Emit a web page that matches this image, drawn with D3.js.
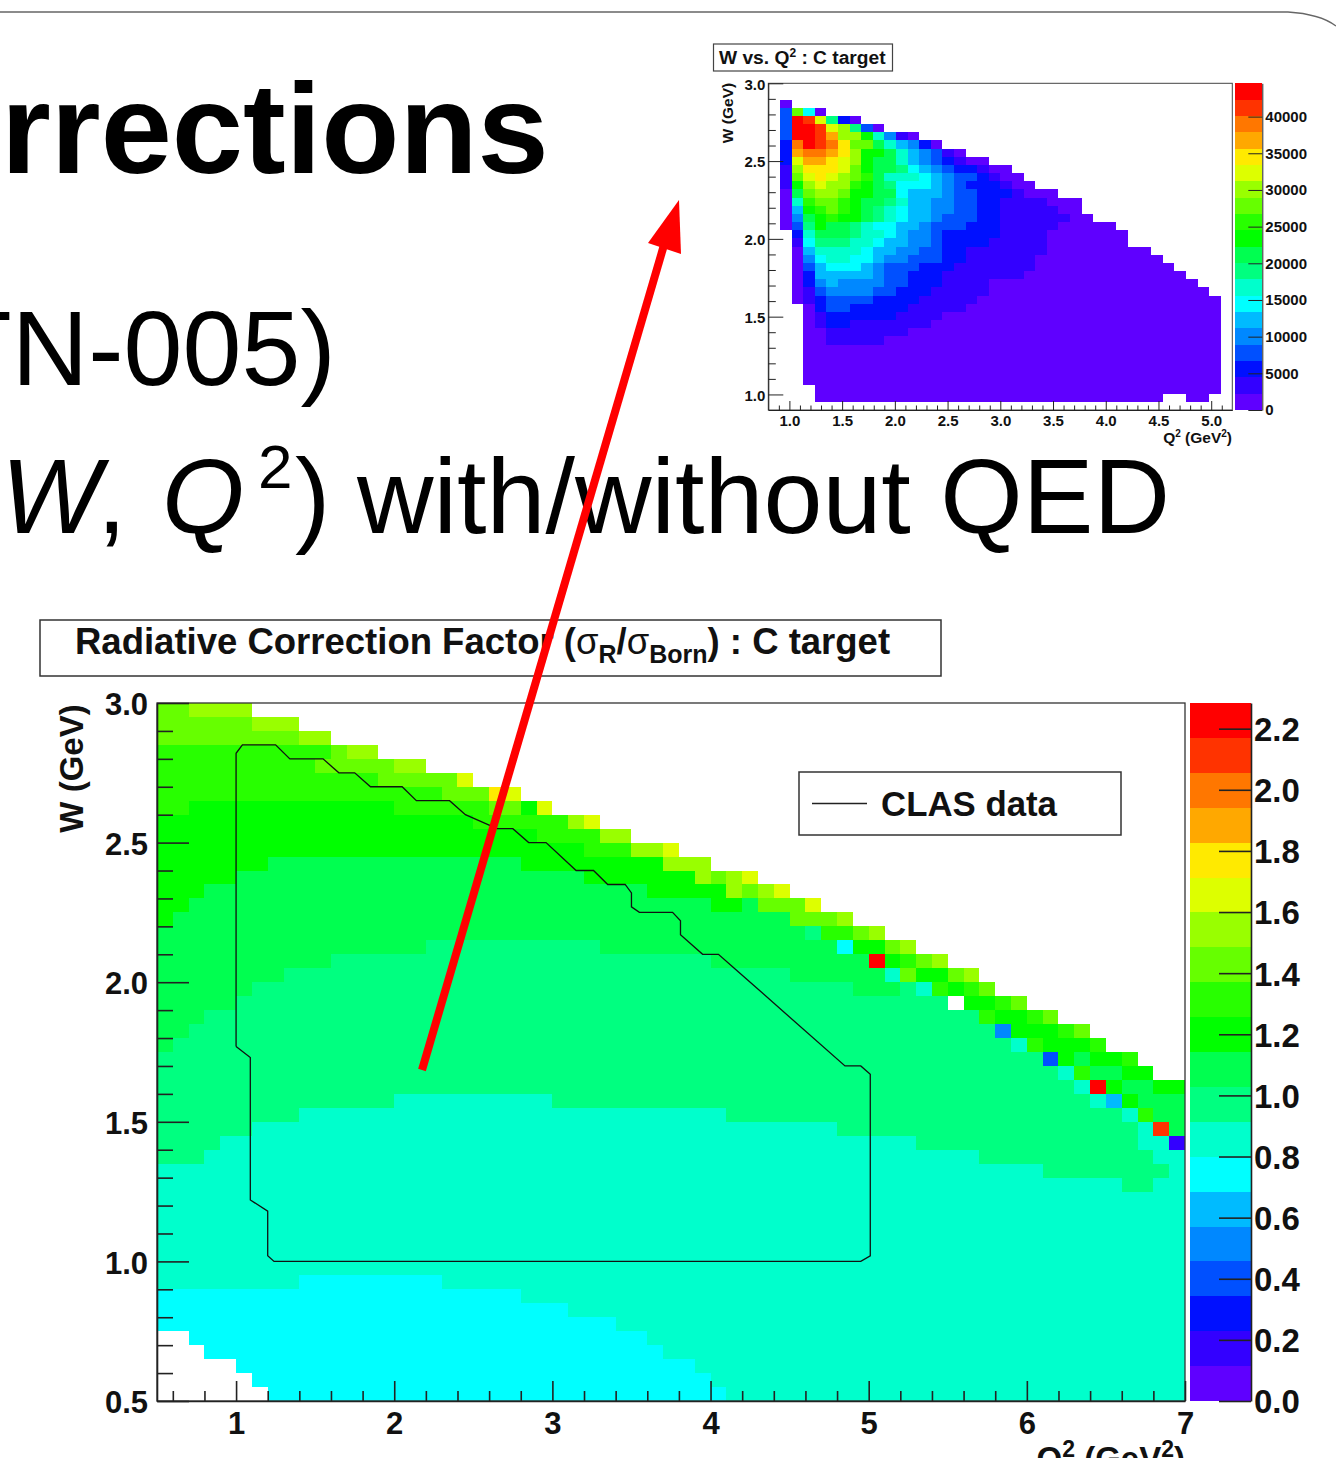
<!DOCTYPE html>
<html>
<head>
<meta charset="utf-8">
<script src="https://cdn.jsdelivr.net/npm/d3@7"></script>
<style>
	body { margin: 0; background: #ffffff; }
	svg { display: block; }
	text { font-family: "Liberation Sans", Arial, sans-serif; fill: #111111; }
	.cell { shape-rendering: crispEdges; }
</style>
</head>
<body>
<div id="chart"></div>
<script>
	// ROOT rainbow palette, 20 contour levels from the bottom of the colour bar
	var palette = ["#5f00ff", "#3300ff", "#0010ff", "#0050ff", "#0088ff", "#00bbff", "#00ffff", "#00ffcc", "#00ff80", "#00ff50",
		"#00ff00", "#28ff00", "#66ff00", "#99ff00", "#ddff00", "#ffea00", "#ffa800", "#ff7700", "#ff3300", "#ff0000"];

	// correction factor map, rows from W = 3.0 down in steps of 0.05
	// each row: Q2 where a run starts, colour level of the run ... -1 means empty
	var corrRows = [
		[0.5,12, 0.7,13, 1.1,-1],
		[0.5,12, 1.1,13, 1.4,-1],
		[0.5,12, 1.4,13, 1.6,-1],
		[0.5,11, 1.6,12, 1.7,13, 1.9,-1],
		[0.5,11, 1.5,12, 2.0,13, 2.2,-1],
		[0.5,11, 1.9,12, 2.4,14, 2.5,-1],
		[0.5,11, 2.3,12, 2.6,15, 2.7,14, 2.8,-1],
		[0.5,11, 0.7,10, 2.0,11, 2.6,12, 2.8,10, 2.9,14, 3.0,-1],
		[0.5,10, 2.5,11, 3.1,13, 3.2,14, 3.3,-1],
		[0.5,10, 2.9,11, 3.3,13, 3.5,-1],
		[0.5,10, 3.2,11, 3.5,13, 3.7,14, 3.8,-1],
		[0.5,10, 1.2,9, 2.8,10, 3.7,13, 4.0,-1],
		[0.5,10, 1.0,9, 3.2,10, 3.9,13, 4.0,12, 4.1,13, 4.2,14, 4.3,-1],
		[0.5,10, 0.8,9, 3.6,10, 4.1,13, 4.2,12, 4.3,13, 4.4,14, 4.5,-1],
		[0.5,10, 0.7,9, 4.0,10, 4.2,9, 4.3,12, 4.6,14, 4.7,-1],
		[0.5,10, 0.6,9, 4.5,12, 4.8,13, 4.9,-1],
		[0.5,9, 4.6,8, 4.7,11, 4.9,12, 5.0,13, 5.1,-1],
		[0.5,9, 2.2,8, 3.3,9, 4.8,6, 4.9,10, 5.1,12, 5.2,13, 5.3,-1],
		[0.5,9, 1.6,8, 4.0,9, 5.0,19, 5.1,10, 5.2,11, 5.3,12, 5.4,13, 5.5,-1],
		[0.5,9, 1.3,8, 4.5,9, 5.1,7, 5.2,12, 5.3,10, 5.5,12, 5.6,13, 5.7,-1],
		[0.5,9, 1.1,8, 4.9,9, 5.2,8, 5.3,7, 5.4,11, 5.5,10, 5.6,11, 5.7,12, 5.8,-1],
		[0.5,9, 1.0,8, 5.5,-1, 5.6,10, 5.8,11, 5.9,12, 6.0,-1],
		[0.5,9, 0.8,8, 5.7,11, 5.8,10, 6.0,11, 6.1,12, 6.2,-1],
		[0.5,9, 0.7,8, 5.8,4, 5.9,10, 6.2,11, 6.3,12, 6.4,-1],
		[0.5,9, 0.6,8, 5.9,7, 6.0,11, 6.1,10, 6.4,11, 6.5,-1],
		[0.5,8, 6.1,3, 6.2,10, 6.3,9, 6.4,10, 6.6,11, 6.7,-1],
		[0.5,8, 6.2,7, 6.3,11, 6.4,9, 6.6,10, 6.8,-1],
		[0.5,8, 6.3,7, 6.4,19, 6.5,10, 6.6,9, 6.8,10, 7.0,-1],
		[0.5,8, 2.0,7, 3.0,8, 6.4,7, 6.5,5, 6.6,10, 6.7,9, 7.0,-1],
		[0.5,8, 1.4,7, 4.1,8, 6.6,7, 6.7,11, 6.8,9, 7.0,-1],
		[0.5,8, 1.1,7, 4.8,8, 6.7,7, 6.8,18, 6.9,9, 7.0,-1],
		[0.5,8, 0.9,7, 5.3,8, 6.7,7, 6.9,1, 7.0,-1],
		[0.5,8, 0.8,7, 5.7,8, 6.8,7, 7.0,-1],
		[0.5,7, 6.1,8, 6.9,7, 7.0,-1],
		[0.5,7, 6.6,8, 6.8,7, 7.0,-1],
		[0.5,7, 7.0,-1],
		[0.5,7, 7.0,-1],
		[0.5,7, 7.0,-1],
		[0.5,7, 7.0,-1],
		[0.5,7, 7.0,-1],
		[0.5,7, 7.0,-1],
		[0.5,7, 1.4,6, 2.3,7, 7.0,-1],
		[0.5,6, 2.8,7, 7.0,-1],
		[0.5,6, 3.1,7, 7.0,-1],
		[0.5,6, 3.4,7, 7.0,-1],
		[0.5,-1, 0.7,6, 3.6,7, 7.0,-1],
		[0.5,-1, 0.8,6, 3.7,7, 7.0,-1],
		[0.5,-1, 1.0,6, 3.9,7, 7.0,-1],
		[0.5,-1, 1.1,6, 4.0,7, 7.0,-1],
		[0.5,-1, 1.2,6, 4.1,7, 7.0,-1]
	];

	// CLAS data outline, Q2 and W
	var clasQ2 = [1.0, 1.0, 1.04, 1.25, 1.34, 1.55, 1.61, 1.65, 1.75, 1.85, 2.05, 2.14, 2.35, 2.45, 2.65, 2.75, 2.85, 2.96, 3.15, 3.26, 3.35, 3.46, 3.5, 3.5, 3.55, 3.76, 3.81, 3.81, 3.95, 4.05, 4.15, 4.85, 4.95, 5.01, 5.01, 4.95, 1.24, 1.2, 1.2, 1.09, 1.09, 1.0];
	var clasW = [1.77, 2.82, 2.85, 2.85, 2.80, 2.80, 2.77, 2.75, 2.75, 2.70, 2.70, 2.65, 2.65, 2.60, 2.55, 2.55, 2.50, 2.50, 2.40, 2.40, 2.35, 2.35, 2.32, 2.27, 2.25, 2.25, 2.22, 2.17, 2.10, 2.10, 2.05, 1.70, 1.70, 1.67, 1.02, 1.0, 1.0, 1.02, 1.18, 1.22, 1.73, 1.77];

	// W vs Q2 counts map, 40 x 40 bins, rows from the top, one character per bin
	// 0-9 then a-j are the colour levels, a dot is an empty bin
	var countRows = [
		"",
		"",
		".0",
		".3c60",
		".3jie820",
		".3jjied830",
		".3jjigdda7410",
		".2hjihfcc975420",
		".2ghhgfdaa9754310",
		".2eggfeda9975432100",
		".1dfffeca998654322100",
		".1cefedcb9777654332100",
		".1adeddba98666543222100",
		".09cddcaa9965554332221000",
		".07bccba998755443322" + "1111000",
		".05abcba987655443322" + "1111100",
		".049abaa987655433322" + "11111100",
		".038a998766554333222" + "1111100000",
		"..279998776544322222" + "11110000000",
		"..168887765544322221" + "11110000000",
		"..057777655443322111" + "1111000000000",
		"..046776654433322111" + "11100000000000",
		"..035666543332221111" + "111000000000000",
		"..025555543322211111" + "1100000000000000",
		"..024544443322211110" + "00000000000000000",
		"..013444433222111110" + "000000000000000000",
		"..012333322221111100" + "0000000000000000000",
		"...02332222211111000" + "0000000000000000000",
		"...01222222111100000" + "0000000000000000000",
		"...01221111111000000" + "0000000000000000000",
		"...00111111100000000" + "0000000000000000000",
		"...00111110000000000" + "0000000000000000000",
		"...00000000000000000" + "0000000000000000000",
		"...00000000000000000" + "0000000000000000000",
		"...00000000000000000" + "0000000000000000000",
		"...00000000000000000" + "0000000000000000000",
		"...00000000000000000" + "0000000000000000000",
		"....0000000000000000" + "0000000000000000000",
		"....0000000000000000" + "00000000000000..00.",
		""
	];

	var q2Major = [1, 2, 3, 4, 5, 6, 7];
	var q2Minor = [0.6, 0.8, 1.2, 1.4, 1.6, 1.8, 2.2, 2.4, 2.6, 2.8, 3.2, 3.4, 3.6, 3.8, 4.2, 4.4, 4.6, 4.8, 5.2, 5.4, 5.6, 5.8, 6.2, 6.4, 6.6, 6.8];
	var wMajor = [0.5, 1.0, 1.5, 2.0, 2.5, 3.0];
	var wMinor = [0.6, 0.7, 0.8, 0.9, 1.1, 1.2, 1.3, 1.4, 1.6, 1.7, 1.8, 1.9, 2.1, 2.2, 2.3, 2.4, 2.6, 2.7, 2.8, 2.9];
	var corrTicks = [0.0, 0.2, 0.4, 0.6, 0.8, 1.0, 1.2, 1.4, 1.6, 1.8, 2.0, 2.2];
	var corrMax = 2.284;

	var insetQ2Major = [1.0, 1.5, 2.0, 2.5, 3.0, 3.5, 4.0, 4.5, 5.0];
	var insetQ2Minor = [0.9, 1.1, 1.2, 1.3, 1.4, 1.6, 1.7, 1.8, 1.9, 2.1, 2.2, 2.3, 2.4, 2.6, 2.7, 2.8, 2.9, 3.1, 3.2, 3.3, 3.4, 3.6, 3.7, 3.8, 3.9, 4.1, 4.2, 4.3, 4.4, 4.6, 4.7, 4.8, 4.9, 5.1];
	var insetWMajor = [1.0, 1.5, 2.0, 2.5, 3.0];
	var insetWMinor = [1.1, 1.2, 1.3, 1.4, 1.6, 1.7, 1.8, 1.9, 2.1, 2.2, 2.3, 2.4, 2.6, 2.7, 2.8, 2.9];
	var countTicks = [0, 5000, 10000, 15000, 20000, 25000, 30000, 35000, 40000];
	var countMax = 44540;

	var svg = d3.select("#chart").append("svg")
		.attr("width", 1336)
		.attr("height", 1458);

	// slide frame
	svg.append("path")
		.attr("d", "M0,12 H1288 Q1320,14 1336,26")
		.attr("fill", "none")
		.attr("stroke", "#666666")
		.attr("stroke-width", 1.3);

	// slide text, cut by the crop on the left
	function slideText(x, y, size, str, weight, style) {
		svg.append("text")
			.attr("x", x)
			.attr("y", y)
			.attr("font-size", size + "px")
			.attr("font-weight", weight || "normal")
			.attr("font-style", style || "normal")
			.style("fill", "#000000")
			.text(str);
	}
	slideText(1, 173, 128, "rrections", "bold");
	slideText(-53, 385, 106, "TN-005)");
	slideText(1, 533, 106, "W", "normal", "italic");
	slideText(97, 533, 106, ",");
	slideText(162, 533, 106, "Q", "normal", "italic");
	slideText(258, 488, 62, "2");
	slideText(295, 533, 106, ")");
	slideText(357, 533, 106, "with/without QED");

	// turns one map's rows into runs of bins with a level
	function corrCells() {
		var cells = [];
		corrRows.forEach(function(row, r) {
			for (var i = 0; i < row.length - 2; i += 2) {
				if (row[i + 1] >= 0) {
					cells.push({ x0: row[i], x1: row[i + 2], top: 3.0 - 0.05 * r, bottom: 3.0 - 0.05 * (r + 1), level: row[i + 1] });
				}
			}
		});
		return cells;
	}
	function countCells() {
		var cells = [];
		countRows.forEach(function(row, r) {
			row.split("").forEach(function(ch, c) {
				if (ch != ".") {
					cells.push({ x0: 0.8 + 0.11 * c, x1: 0.8 + 0.11 * (c + 1), top: 3.0 - 0.0525 * r, bottom: 3.0 - 0.0525 * (r + 1), level: parseInt(ch, 20) });
				}
			});
		});
		return cells;
	}

	function drawCells(g, cells, x, y) {
		g.selectAll(".cell")
			.data(cells)
			.enter().append("rect")
			.attr("class", "cell")
			.attr("x", function(d) { return x(d.x0); })
			.attr("y", function(d) { return y(d.top); })
			.attr("width", function(d) { return x(d.x1) - x(d.x0); })
			.attr("height", function(d) { return y(d.bottom) - y(d.top); })
			.attr("fill", function(d) { return palette[d.level]; });
	}

	function drawBar(g, barX, barW, z, zMax) {
		var levels = d3.range(palette.length);
		var step = zMax / palette.length;
		g.selectAll(".cell")
			.data(levels)
			.enter().append("rect")
			.attr("class", "cell")
			.attr("x", barX)
			.attr("y", function(d) { return z((d + 1) * step); })
			.attr("width", barW)
			.attr("height", function(d) { return z(d * step) - z((d + 1) * step); })
			.attr("fill", function(d) { return palette[d]; });
	}

	// major and minor ticks, both pointing into the plot
	function addAxis(g, side, scale, pos, major, minor, majorLen, minorLen, pad, fmt, size, lineW) {
		var make = side == "bottom" ? d3.axisBottom : d3.axisLeft;
		var tr = side == "bottom" ? "translate(0," + pos + ")" : "translate(" + pos + ",0)";
		g.append("g")
			.attr("transform", tr)
			.call(make(scale).tickValues(minor).tickSize(-minorLen).tickFormat(""))
			.call(function(a) {
				a.select(".domain").remove();
				a.selectAll("line").attr("stroke", "#222222").attr("stroke-width", lineW);
			});
		var ax = g.append("g")
			.attr("transform", tr)
			.attr("font-family", null)
			.call(make(scale).tickValues(major).tickSizeInner(-majorLen).tickSizeOuter(0).tickPadding(pad).tickFormat(fmt));
		ax.selectAll("text")
			.attr("font-size", size + "px")
			.attr("font-weight", "bold");
		if (side == "left") ax.selectAll("text").attr("dy", ".38em");
		ax.selectAll("line, path").attr("stroke", "#222222").attr("stroke-width", lineW);
	}

	// ---- main plot ----
	var xMain = d3.scaleLinear().domain([0.5, 7]).range([157, 1185]);
	var yMain = d3.scaleLinear().domain([0.5, 3]).range([1401, 703]);
	var zMain = d3.scaleLinear().domain([0, corrMax]).range([1401, 703]);
	var mainG = svg.append("g");

	drawCells(mainG, corrCells(), xMain, yMain);

	mainG.append("rect")
		.attr("x", 157).attr("y", 703)
		.attr("width", 1028).attr("height", 698)
		.attr("fill", "none")
		.attr("stroke", "#333333")
		.attr("stroke-width", 1.3);

	addAxis(mainG, "bottom", xMain, 1401, q2Major, q2Minor, 20, 10, 11, d3.format("d"), 31, 1.6);
	addAxis(mainG, "left", yMain, 157, wMajor, wMinor, 32, 16, 9, d3.format(".1f"), 31, 1.6);

	var clasLine = d3.line()
		.x(function(d) { return xMain(clasQ2[d]); })
		.y(function(d) { return yMain(clasW[d]); });
	mainG.append("path")
		.attr("d", clasLine(d3.range(clasQ2.length)))
		.attr("fill", "none")
		.attr("stroke", "#111111")
		.attr("stroke-width", 1.3);

	mainG.append("text")
		.attr("transform", "translate(83,768.5) rotate(-90)")
		.attr("text-anchor", "middle")
		.attr("font-size", "33px")
		.attr("font-weight", "bold")
		.text("W (GeV)");

	var mainXLabel = mainG.append("text")
		.attr("x", 1185)
		.attr("y", 1470)
		.attr("text-anchor", "end")
		.attr("font-size", "33px")
		.attr("font-weight", "bold");
	mainXLabel.append("tspan").text("Q");
	mainXLabel.append("tspan").attr("dy", -13).attr("font-size", "23px").text("2");
	mainXLabel.append("tspan").attr("dy", 13).text(" (GeV");
	mainXLabel.append("tspan").attr("dy", -13).attr("font-size", "23px").text("2");
	mainXLabel.append("tspan").attr("dy", 13).text(")");

	// colour bar of the main plot
	var mainBar = svg.append("g");
	drawBar(mainBar, 1190, 61, zMain, corrMax);
	mainBar.append("g")
		.attr("transform", "translate(1251,0)")
		.call(d3.axisRight(zMain).tickValues(corrTicks).tickSizeInner(-32).tickSizeOuter(0).tickPadding(3).tickFormat(d3.format(".1f")))
		.call(function(a) {
			a.selectAll("text").attr("font-size", "33px").attr("font-weight", "bold").attr("dy", ".36em");
			a.selectAll("line, path").attr("stroke", "#222222").attr("stroke-width", 1.6);
		});

	// title box
	svg.append("rect")
		.attr("x", 40).attr("y", 620)
		.attr("width", 901).attr("height", 56)
		.attr("fill", "none")
		.attr("stroke", "#333333")
		.attr("stroke-width", 1.5);
	var mainTitle = svg.append("text")
		.attr("x", 75)
		.attr("y", 654)
		.attr("font-size", "36.5px")
		.attr("font-weight", "bold");
	mainTitle.append("tspan").text("Radiative Correction Factor (");
	mainTitle.append("tspan").attr("font-weight", "normal").text("σ");
	mainTitle.append("tspan").attr("dy", 9).attr("font-size", "25px").text("R");
	mainTitle.append("tspan").attr("dy", -9).text("/");
	mainTitle.append("tspan").attr("font-weight", "normal").text("σ");
	mainTitle.append("tspan").attr("dy", 9).attr("font-size", "25px").text("Born");
	mainTitle.append("tspan").attr("dy", -9).text(") : C target");

	// legend
	svg.append("rect")
		.attr("x", 799).attr("y", 772)
		.attr("width", 322).attr("height", 63)
		.attr("fill", "#ffffff")
		.attr("stroke", "#333333")
		.attr("stroke-width", 1.5);
	svg.append("line")
		.attr("x1", 812).attr("x2", 867)
		.attr("y1", 803.5).attr("y2", 803.5)
		.attr("stroke", "#222222")
		.attr("stroke-width", 1.3);
	svg.append("text")
		.attr("x", 881)
		.attr("y", 816)
		.attr("font-size", "34.8px")
		.attr("font-weight", "bold")
		.text("CLAS data");

	// ---- inset plot ----
	var xInset = d3.scaleLinear().domain([0.8, 5.2]).range([768.3, 1232.3]);
	var yInset = d3.scaleLinear().domain([0.9, 3]).range([410, 83.3]);
	var zInset = d3.scaleLinear().domain([0, countMax]).range([410, 83.3]);
	var insetG = svg.append("g");

	drawCells(insetG, countCells(), xInset, yInset);

	insetG.append("rect")
		.attr("x", 768.3).attr("y", 83.3)
		.attr("width", 464).attr("height", 326.7)
		.attr("fill", "none")
		.attr("stroke", "#444444")
		.attr("stroke-width", 1);

	addAxis(insetG, "bottom", xInset, 410, insetQ2Major, insetQ2Minor, 9, 4.5, 5, d3.format(".1f"), 15, 1);
	addAxis(insetG, "left", yInset, 768.3, insetWMajor, insetWMinor, 15, 7.5, 3, d3.format(".1f"), 15, 1);

	insetG.append("text")
		.attr("transform", "translate(733,113) rotate(-90)")
		.attr("text-anchor", "middle")
		.attr("font-size", "15.5px")
		.attr("font-weight", "bold")
		.text("W (GeV)");

	var insetXLabel = insetG.append("text")
		.attr("x", 1232)
		.attr("y", 443)
		.attr("text-anchor", "end")
		.attr("font-size", "15.5px")
		.attr("font-weight", "bold");
	insetXLabel.append("tspan").text("Q");
	insetXLabel.append("tspan").attr("dy", -6).attr("font-size", "10px").text("2");
	insetXLabel.append("tspan").attr("dy", 6).text(" (GeV");
	insetXLabel.append("tspan").attr("dy", -6).attr("font-size", "10px").text("2");
	insetXLabel.append("tspan").attr("dy", 6).text(")");

	var insetBar = svg.append("g");
	drawBar(insetBar, 1235, 27.3, zInset, countMax);
	insetBar.append("g")
		.attr("transform", "translate(1262.3,0)")
		.call(d3.axisRight(zInset).tickValues(countTicks).tickSizeInner(-14).tickSizeOuter(0).tickPadding(3).tickFormat(d3.format("d")))
		.call(function(a) {
			a.selectAll("text").attr("font-size", "15px").attr("font-weight", "bold");
			a.selectAll("line, path").attr("stroke", "#222222");
		});

	svg.append("rect")
		.attr("x", 713.5).attr("y", 44)
		.attr("width", 179).attr("height", 27)
		.attr("fill", "none")
		.attr("stroke", "#444444")
		.attr("stroke-width", 1.2);
	var insetTitle = svg.append("text")
		.attr("x", 719)
		.attr("y", 64)
		.attr("font-size", "19.2px")
		.attr("font-weight", "bold");
	insetTitle.append("tspan").text("W vs. Q");
	insetTitle.append("tspan").attr("dy", -7).attr("font-size", "12px").text("2");
	insetTitle.append("tspan").attr("dy", 7).text(" : C target");

	// ---- red arrow from the big plot to the small one ----
	var arrow = svg.append("g");
	arrow.append("line")
		.attr("x1", 422).attr("y1", 1070)
		.attr("x2", 664).attr("y2", 245)
		.attr("stroke", "#ff0000")
		.attr("stroke-width", 8);
	arrow.append("path")
		.attr("d", "M679,200 L681,254 L648,243 Z")
		.attr("fill", "#ff0000");
</script>
</body>
</html>
